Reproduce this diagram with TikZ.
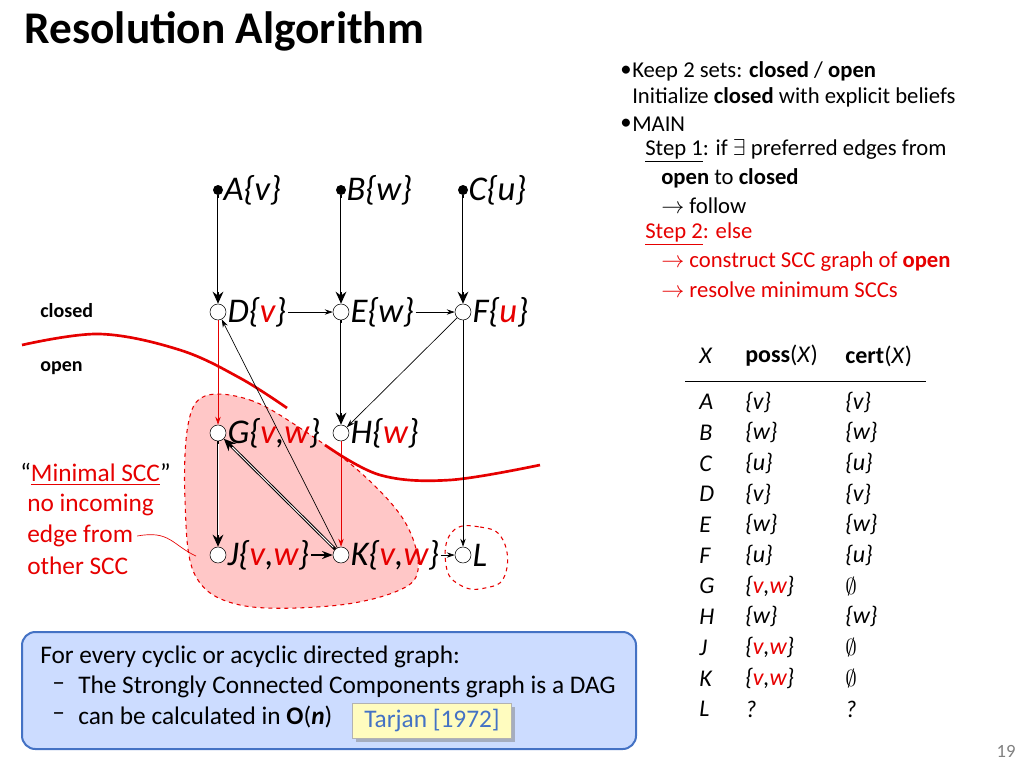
\documentclass[tikz,border=0pt]{standalone}
\usepackage{fontspec}
\setmainfont{Carlito}
\usetikzlibrary{arrows.meta,shadows}
\definecolor{sccred}{RGB}{230,0,0}
\definecolor{boxblue}{RGB}{204,220,255}
\definecolor{boxedge}{RGB}{68,114,196}
\begin{document}
\begin{tikzpicture}[x=0.75pt,y=-0.75pt,
  vtx/.style={circle,draw,fill=white,inner sep=0pt,minimum size=12pt},
  dot/.style={circle,fill=black,inner sep=0pt,minimum size=7.5pt},
  lab/.style={anchor=west,font=\fontsize{26}{28}\selectfont\itshape,inner sep=1pt},
  txt/.style={anchor=west,font=\fontsize{17}{19}\selectfont,inner sep=0pt},
  tab/.style={anchor=west,font=\fontsize{18}{20}\selectfont,inner sep=0pt},
  dblo/.style={line width=2.2pt,-{Stealth[length=9pt,width=8pt]}},
  dbli/.style={white,line width=0.7pt,shorten >=9pt,shorten <=2pt},
  thin/.style={-{Stealth[length=6pt,width=4pt]},line width=0.5pt},
  rd/.style={sccred}]
\useasboundingbox (0,0) rectangle (1024,768);
\newcommand{\R}[1]{\textcolor{sccred}{#1}}
% title
\node[anchor=west,font=\fontsize{34}{36}\selectfont\bfseries] (title) at (20,31) {Resolution Algorithm};
% shaded SCC
\draw[sccred,dashed,line width=0.8pt,fill=red!22] plot[smooth cycle,tension=0.6] coordinates
 {(205,396) (250,400) (300,428) (360,472) (405,522) (418,570) (395,592) (330,606) (240,605) (195,575) (185,500) (188,425)};
\draw[sccred,dashed,line width=0.8pt] plot[smooth cycle,tension=0.8] coordinates
 {(452,532) (480,527) (503,540) (505,575) (485,588) (460,585) (446,565)};
% open/closed line
\draw[sccred,line width=2pt] plot[smooth,tension=0.6] coordinates {(22,345) (100,334) (180,350) (240,378) (287,408)};
\draw[sccred,line width=2pt] plot[smooth,tension=0.6] coordinates {(325,445) (380,475) (450,480) (540,465)};
% nodes
\node[dot] (A) at (218,190) {}; \node[lab] (Al) at (222,190) {A\{v\}};
\node[dot] (B) at (341,190) {}; \node[lab] (Bl) at (345,190) {B\{w\}};
\node[dot] (C) at (463,190) {}; \node[lab] (Cl) at (467,190) {C\{u\}};
\node[vtx] (D) at (218,312) {}; \node[lab] (Dl) at (226,312) {D\{\R{v}\}};
\node[vtx] (E) at (341,312) {}; \node[lab] (El) at (349,312) {E\{w\}};
\node[vtx] (F) at (463,312) {}; \node[lab] (Fl) at (471,312) {F\{\R{u}\}};
\node[vtx] (G) at (218,433) {};
\node[vtx] (H) at (341,433) {}; \node[lab] (Hl) at (349,433) {H\{\R{w}\}};
\node[vtx] (J) at (218,555) {}; \node[lab] (Jl) at (226,555) {J\{\R{v},\R{w}\}};
\node[vtx] (K) at (341,555) {}; \node[lab] (Kl) at (349,555) {K\{\R{v},\R{w}\}};
\node[vtx] (L) at (463,555) {}; \node[lab] (Ll) at (471,555) {L};
% edges
\draw[thin] (K) -- (D);
\node[lab] (Gl) at (226,433) {G\{\R{v},\R{w}\}};
\foreach \a/\b in {A/D,B/E,C/F,E/H,G/J,K/G}{
  \draw[dblo] (\a) -- (\b);
  \draw[dbli] (\a) -- (\b);
}
\draw[thin] (Dl.east) -- (E); \draw[thin] (El.east) -- (F);
\draw[thin,rd] (D) -- (G);
\draw[thin] (F) -- (H);
\draw[thin] (F) -- (L);
\draw[thin,rd] (H) -- (K);
\draw[line width=1.2pt,-{Stealth[length=8pt,width=6pt]}] (Jl.east) -- (K);
\draw[thin] (Kl.east) -- (L);
% left labels
\node[txt,font=\fontsize{15}{17}\selectfont\bfseries] (closed) at (40,311) {closed};
\node[txt,font=\fontsize{15}{17}\selectfont\bfseries] (open) at (40,368) {open};
\node[txt,font=\fontsize{19}{21}\selectfont,text=sccred] (m1) at (20,474) {\textcolor{black}{``}\underline{Minimal SCC}\textcolor{black}{''}};
\node[txt,font=\fontsize{19}{21}\selectfont,text=sccred] (m2) at (27,505) {no incoming};
\node[txt,font=\fontsize{19}{21}\selectfont,text=sccred] (m3) at (27,536) {edge from};
\node[txt,font=\fontsize{19}{21}\selectfont,text=sccred] (m4) at (27,566) {other SCC};
\draw[sccred,line width=0.5pt] ([xshift=3pt]m3.east) .. controls (170,530) and (172,545) .. (196,556);
% right text
\node[txt] (r0) at (620,71) {\textbullet};
\node[txt] (r1) at (632,71) {Keep 2 sets: \textbf{closed} / \textbf{open}};
\node[txt] (r2) at (632,97) {Initialize \textbf{closed} with explicit beliefs};
\node[txt] (r3a) at (620,124) {\textbullet};
\node[txt] (r3) at (632,124) {MAIN};
\node[txt] (r4) at (645,151) {\underline{Step 1}: if $\exists$ preferred edges from};
\node[txt] (r5) at (661,178) {\textbf{open} to \textbf{closed}};
\node[txt] (r6) at (661,206) {$\rightarrow$ follow};
\node[txt,text=sccred] (r7) at (645,234) {\underline{Step 2}: else};
\node[txt,text=sccred] (r8) at (661,262) {$\rightarrow$ construct SCC graph of \textbf{open}};
\node[txt,text=sccred] (r9) at (661,290) {$\rightarrow$ resolve minimum SCCs};
% table
\node[tab] (hX) at (699,356) {\itshape X};
\node[tab] (hP) at (745,356) {\textbf{poss}(\textit{X})};
\node[tab] (hC) at (845,356) {\textbf{cert}(\textit{X})};
\draw[line width=0.6pt] (685,381) -- (926,381);
\def\VW{\{\R{v},\R{w}\}}
\foreach \nm/\ps/\ct [count=\i from 0] in {A/\{v\}/\{v\},B/\{w\}/\{w\},C/\{u\}/\{u\},D/\{v\}/\{v\},E/\{w\}/\{w\},F/\{u\}/\{u\},G/\VW/$\emptyset$,H/\{w\}/\{w\},J/\VW/$\emptyset$,K/\VW/$\emptyset$,L/?/?}{
  \node[tab] (t\i) at (699,402+30.7*\i) {\itshape\nm};
  \node[tab] (p\i) at (745,402+30.7*\i) {\itshape\ps};
  \node[tab] (q\i) at (845,402+30.7*\i) {\itshape\ct};
}
% bottom box
\draw[boxedge,line width=1.5pt,fill=boxblue,rounded corners=10pt] (22,632) rectangle (636,749);
\node[txt,font=\fontsize{19}{21}\selectfont] (b1) at (40,657) {For every cyclic or acyclic directed graph:};
\node[txt,font=\fontsize{19}{21}\selectfont] (b2d) at (52,687) {--};
\node[txt,font=\fontsize{19}{21}\selectfont] (b2) at (78,687) {The Strongly Connected Components graph is a DAG};
\node[txt,font=\fontsize{19}{21}\selectfont] (b3d) at (52,717) {--};
\node[txt,font=\fontsize{19}{21}\selectfont] (b3) at (78,717) {can be calculated in \textbf{O}(\textbf{\textit{n}})};
\node[draw=gray!60,fill=yellow!25,drop shadow,minimum width=119pt,minimum height=26pt,inner sep=0pt,text=boxedge,font=\fontsize{19}{21}\selectfont] (tarjan) at (432,721) {Tarjan [1972]};
\node[font=\fontsize{14}{16}\selectfont,text=gray] (pg) at (1006,751) {19};
\end{tikzpicture}
\end{document}
